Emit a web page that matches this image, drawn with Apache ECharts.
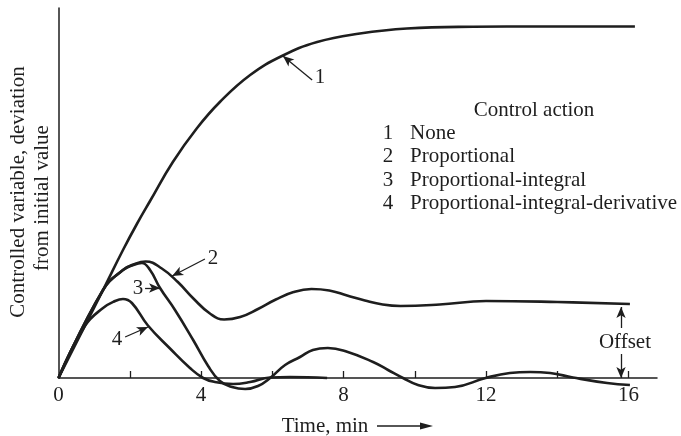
<!DOCTYPE html>
<html>
<head>
<meta charset="utf-8">
<script src="https://cdn.jsdelivr.net/npm/echarts@6/dist/echarts.min.js"></script>
<style>
html,body{margin:0;padding:0;background:#fff;}
#chart{width:681px;height:436px;}
</style>
</head>
<body>
<div id="chart"></div>
<script>
// ---- data (time in min, deviation in arbitrary units) ----
const t1 = [0, 1.25, 1.81, 2.2, 2.57, 3.21, 3.89, 4.53, 5.38, 6.27, 7.26, 8.46, 9.78, 11.64, 13.52, 16.18];
const v1 = [0, 8.8, 12.8, 15.4, 17.7, 21.6, 25.0, 27.6, 30.3, 32.2, 33.6, 34.45, 34.95, 35.12, 35.15, 35.15];

const t2 = [0, 1.25, 1.81, 2.1, 2.45, 2.9, 3.35, 3.8, 4.25, 4.65, 5.1, 5.6, 6.1, 6.6, 7.1, 7.6, 8.1, 8.6, 9.1, 9.6, 10.7, 12.0, 14.0, 16.04];
const v2 = [0, 8.8, 10.8, 11.35, 11.65, 10.95, 9.6, 7.9, 6.45, 5.85, 6.1, 6.9, 7.85, 8.6, 8.9, 8.75, 8.25, 7.75, 7.35, 7.2, 7.35, 7.7, 7.6, 7.4];

const t3 = [0, 1.25, 1.81, 2.1, 2.34, 2.57, 2.85, 3.27, 3.78, 4.2, 4.53, 4.87, 5.24, 5.6, 5.94, 6.36, 6.78, 7.14, 7.56, 8.04, 8.83, 9.25, 9.67, 10.09, 10.57, 11.13, 11.99, 12.67, 13.24, 13.8, 14.44, 15.4, 16.04];
const v3 = [0, 8.8, 10.8, 11.3, 11.5, 10.8, 9.0, 6.8, 3.8, 1.2, -0.3, -0.9, -1.1, -0.8, 0, 1.3, 2.1, 2.8, 3.0, 2.7, 1.6, 0.8, 0, -0.7, -1.0, -0.9, 0, 0.5, 0.6, 0.5, 0.05, -0.5, -0.7];

const t4 = [0, 0.74, 1.25, 1.59, 1.81, 2.06, 2.51, 3.13, 3.69, 4.06, 4.39, 4.9, 5.38, 5.94, 6.5, 7.54];
const v4 = [0, 5.2, 7.0, 7.7, 7.9, 7.5, 5.25, 2.95, 1.0, 0, -0.4, -0.6, -0.4, 0.05, 0.1, 0];

const xTickLabels = [0, 4, 8, 12, 16];
const xTicks = [2, 4, 6, 8, 10, 12, 14, 16];

const legendTitle = 'Control action';
const legendNums = ['1', '2', '3', '4'];
const legendNames = ['None', 'Proportional', 'Proportional-integral', 'Proportional-integral-derivative'];

// annotation labels and arrows (data coordinates)
const labelT = [7.34, 4.34, 2.23, 1.64, 15.9];
const labelV = [30.1, 12.0, 9.0, 3.9, 3.6];
const labelText = ['1', '2', '3', '4', 'Offset'];
const arrows = [
  [[7.12, 29.8], [6.30, 32.2]],
  [[4.11, 11.9], [3.19, 10.2]],
  [[2.43, 9.0], [2.85, 9.0]],
  [[1.87, 4.1], [2.51, 5.1]],
  [[15.79, 5.0], [15.79, 7.1]],
  [[15.79, 2.4], [15.79, 0.0]]
];

const INK = '#1e1e1e';
const FONT = '"Liberation Serif", "Times New Roman", serif';
const FS = 21;

const zip = (t, v) => t.map((x, i) => [x, v[i]]);

function curve(name, t, v) {
  return {
    name: name, type: 'line', data: zip(t, v), smooth: 0.45, showSymbol: false,
    clip: false, animation: false,
    lineStyle: { color: INK, width: 2.6 }
  };
}

const chart = echarts.init(document.getElementById('chart'), null, { renderer: 'canvas' });

const txt = (s, x, y, align, rot) => ({
  type: 'text', x: x, y: y, rotation: rot || 0,
  style: { text: s, font: FS + 'px ' + FONT, fill: INK, align: align, verticalAlign: 'middle' }
});

const legendGraphics = [txt(legendTitle, 534, 110, 'center')];
const legendY = [133, 156.5, 180, 203];
legendNums.forEach((n, i) => {
  legendGraphics.push(txt(n, 388, legendY[i], 'center'));
  legendGraphics.push(txt(legendNames[i], 410, legendY[i], 'left'));
});

const option = {
  animation: false,
  backgroundColor: '#fff',
  grid: { left: 58.5, right: 24, top: 8, bottom: 58, containLabel: false },
  xAxis: {
    type: 'value', min: 0, max: 16.8,
    axisLine: { show: true, lineStyle: { color: INK, width: 1.5 } },
    axisTick: { show: true, inside: true, length: 7, customValues: xTicks, lineStyle: { color: INK, width: 1.3 } },
    axisLabel: { show: true, customValues: xTickLabels, margin: 7, color: INK, fontSize: FS, fontFamily: FONT },
    splitLine: { show: false }
  },
  yAxis: {
    type: 'value', min: 0, max: 37,
    axisLine: { show: true, lineStyle: { color: INK, width: 1.5 } },
    axisTick: { show: false }, axisLabel: { show: false }, splitLine: { show: false }
  },
  series: [
    curve('1', t1, v1),
    curve('2', t2, v2),
    curve('3', t3, v3),
    curve('4', t4, v4),
    {
      name: 'annotations', type: 'custom', clip: false, silent: true,
      data: zip(labelT, labelV),
      renderItem: function (params, api) {
        const p = api.coord([api.value(0), api.value(1)]);
        return {
          type: 'text', x: p[0], y: p[1],
          style: { text: labelText[params.dataIndex], font: FS + 'px ' + FONT, fill: INK, align: 'center', verticalAlign: 'middle' }
        };
      },
      markLine: {
        silent: true, symbol: ['none', 'arrow'], symbolSize: [7, 11],
        label: { show: false },
        lineStyle: { color: INK, width: 1.3, type: 'solid' },
        data: arrows.map(a => [{ coord: a[0] }, { coord: a[1] }])
      }
    }
  ],
  graphic: [
    txt('Controlled variable, deviation', 18, 192, 'center', Math.PI / 2),
    txt('from initial value', 42, 198, 'center', Math.PI / 2),
    txt('Time, min', 325, 426, 'center'),
    { type: 'line', shape: { x1: 377, y1: 426, x2: 424, y2: 426 }, style: { stroke: INK, lineWidth: 1.4 } },
    { type: 'polygon', shape: { points: [[433, 426], [420, 422.5], [420, 429.5]] }, style: { fill: INK } }
  ].concat(legendGraphics)
};

chart.setOption(option);
</script>
</body>
</html>
